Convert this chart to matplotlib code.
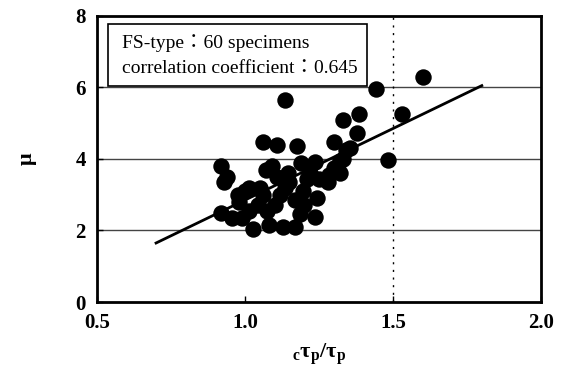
import numpy as np
import matplotlib.pyplot as plt
from matplotlib.patches import Rectangle

# -------------------------- DATA --------------------------
ratio = [0.92, 0.93, 0.94, 0.92, 0.955, 0.975, 0.98, 1.015, 1.05, 1.06,
         1.07, 1.09, 1.11, 1.175, 1.135, 1.108, 1.145, 1.135, 1.045, 1.075,
         1.027, 1.08, 1.128, 1.17, 1.185, 1.168, 1.195, 1.19, 1.237, 1.245,
         1.237, 1.21, 1.25, 1.285, 1.30, 1.32, 1.34, 1.30, 1.38, 1.33,
         1.385, 1.355, 1.443, 1.53, 1.483, 1.60, 1.28, 1.00, 1.12, 1.10,
         1.20, 1.32, 1.015, 1.15, 1.06, 1.22, 1.33, 0.99]
mu = [3.80, 3.35, 3.50, 2.50, 2.35, 3.00, 2.80, 3.20, 3.20, 4.48,
      3.70, 3.80, 4.40, 4.36, 5.65, 3.50, 3.60, 3.20, 2.70, 2.55,
      2.05, 2.15, 2.10, 2.10, 2.45, 2.85, 3.10, 3.90, 3.92, 2.90,
      2.38, 3.45, 3.45, 3.55, 3.75, 3.95, 4.25, 4.48, 4.73, 5.09,
      5.26, 4.30, 5.96, 5.26, 3.97, 6.29, 3.35, 3.10, 3.00, 2.70,
      2.70, 3.60, 2.55, 3.35, 3.00, 3.60, 4.00, 2.35]

fit_x = [0.70, 1.80]
fit_y = [1.65, 6.05]

x_ticks = [0.5, 1.0, 1.5, 2.0]
y_ticks = [0, 2, 4, 6, 8]

# -------------------------- PLOT --------------------------
plt.rcParams['mathtext.fontset'] = 'custom'
plt.rcParams['mathtext.bf'] = 'Liberation Serif:bold'
plt.rcParams['mathtext.rm'] = 'Liberation Serif'

fig = plt.figure(figsize=(5.63, 3.78), dpi=100)
ax = fig.add_axes([0.172, 0.201, 0.789, 0.757])

ax.set_xlim(0.5, 2.0)
ax.set_ylim(0, 8)

for g in [2, 4, 6]:
    ax.axhline(g, color='#444444', linewidth=1.0, zorder=1)
ax.axvline(1.5, color='black', linestyle=(0, (1.5, 4)), linewidth=1.0, zorder=1)

ax.scatter(ratio, mu, s=140, color='black', zorder=3, linewidths=0)
ax.plot(fit_x, fit_y, color='black', linewidth=2.0, zorder=4)

ax.set_xticks(x_ticks)
ax.set_xticklabels(['%.1f' % t for t in x_ticks])
ax.set_yticks(y_ticks)
for lab in ax.get_xticklabels() + ax.get_yticklabels():
    lab.set_family('Liberation Serif')
    lab.set_fontweight('bold')
    lab.set_fontsize(15)
ax.tick_params(direction='in', length=4, width=1.0, pad=8)

for side in ['left', 'bottom', 'top', 'right']:
    ax.spines[side].set_linewidth(2.0)

ax.set_xlabel(r'$_\mathbf{c}\mathbf{τ}_\mathbf{p}\mathbf{/τ}_\mathbf{p}$', fontsize=16, labelpad=6)
ax.set_ylabel('μ', family='Liberation Serif', fontweight='bold', fontsize=16, labelpad=28)

# annotation box
ax.add_patch(Rectangle((0.025, 0.755), 0.583, 0.217, transform=ax.transAxes,
                       facecolor='white', edgecolor='black', linewidth=1.2, zorder=5))
fam = ['Liberation Serif', 'Noto Sans CJK JP']
ax.text(0.057, 0.905, 'FS-type：60 specimens', transform=ax.transAxes,
        family=fam, fontsize=14, va='center', zorder=6)
ax.text(0.057, 0.815, 'correlation coefficient：0.645', transform=ax.transAxes,
        family=fam, fontsize=14, va='center', zorder=6)

plt.savefig('out.png', dpi=100)
